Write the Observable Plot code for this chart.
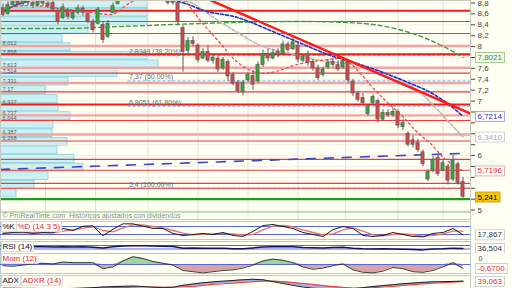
<!DOCTYPE html>
<html><head><meta charset="utf-8">
<script src="https://cdn.jsdelivr.net/npm/d3@7"></script>
<script src="https://cdn.jsdelivr.net/npm/@observablehq/plot@0.6"></script>
<style>
body{margin:0;background:#fffff4;font-family:"Liberation Sans",Arial,sans-serif}
#wrap{position:relative;width:512px;height:288px;overflow:hidden;background:#fffff4}
</style></head><body><div id="wrap"></div>
<script>
// ---------------- DATA ----------------
const candleOpen  = [8.70,8.60,8.76,8.83,8.78,8.85,8.80,8.76,8.84,8.79,8.80,8.66,8.52,8.66,8.52,8.62,8.70,8.60,8.46,8.42,8.40,8.18,8.62,8.78,8.95,9.10,9.25,9.15,9.08,9.02,9.06,8.98,8.94,8.88,8.80,8.80,8.34,7.92,8.10,8.02,7.78,7.90,7.74,7.78,7.60,7.72,7.48,7.34,7.16,7.38,7.46,7.36,7.66,7.86,7.78,7.90,7.86,8.04,7.95,8.02,7.74,7.85,7.72,7.60,7.48,7.62,7.72,7.66,7.62,7.72,7.36,7.14,7.06,6.76,6.96,7.00,6.66,6.78,6.74,6.80,6.52,6.40,6.28,6.24,6.06,5.56,5.72,5.96,5.72,5.80,5.56,5.84,5.52];
const candleHigh  = [8.78,8.82,8.90,8.92,8.93,8.95,8.88,8.92,8.90,8.86,8.84,8.70,8.78,8.70,8.66,8.76,8.74,8.64,8.50,8.72,8.46,8.48,8.80,9.00,9.15,9.34,9.30,9.22,9.14,9.12,9.10,9.04,8.98,8.92,8.90,8.84,8.38,8.17,8.18,8.05,7.96,8.02,7.85,7.82,7.80,7.76,7.52,7.38,7.38,7.52,7.56,7.72,7.94,7.95,7.94,7.96,8.10,8.08,8.16,8.06,7.86,7.92,7.76,7.66,7.62,7.76,7.78,7.74,7.80,7.76,7.40,7.18,7.14,6.94,7.12,7.04,6.84,6.84,6.86,6.84,6.66,6.44,6.36,6.30,6.10,5.74,5.98,6.00,5.92,5.84,6.00,5.88,5.60];
const candleLow   = [8.55,8.57,8.72,8.74,8.74,8.75,8.70,8.72,8.74,8.70,8.64,8.40,8.50,8.50,8.48,8.58,8.56,8.42,8.25,8.40,8.06,8.15,8.60,8.76,8.90,9.05,9.10,9.02,8.98,8.96,8.95,8.90,8.84,8.76,8.76,8.38,7.53,7.84,8.00,7.70,7.76,7.70,7.68,7.53,7.56,7.36,7.28,7.14,7.10,7.34,7.20,7.32,7.62,7.72,7.76,7.80,7.84,7.90,7.93,7.70,7.70,7.64,7.55,7.38,7.44,7.58,7.62,7.54,7.58,7.32,7.08,6.98,6.94,6.72,6.92,6.60,6.62,6.70,6.70,6.50,6.46,6.16,6.14,6.06,5.80,5.52,5.68,5.62,5.70,5.46,5.52,5.46,5.22];
const candleClose = [8.58,8.76,8.82,8.78,8.85,8.80,8.76,8.84,8.79,8.74,8.68,8.45,8.72,8.55,8.62,8.70,8.62,8.46,8.30,8.68,8.12,8.42,8.74,8.95,9.10,9.25,9.15,9.08,9.02,9.06,8.98,8.94,8.88,8.80,8.84,8.45,7.90,8.10,8.05,7.75,7.90,7.74,7.80,7.58,7.76,7.45,7.32,7.18,7.34,7.48,7.30,7.66,7.86,7.78,7.88,7.84,8.04,7.94,8.08,7.76,7.82,7.70,7.60,7.42,7.58,7.70,7.66,7.58,7.74,7.38,7.14,7.02,6.96,6.90,7.08,6.66,6.78,6.74,6.80,6.55,6.60,6.20,6.20,6.10,5.84,5.70,5.92,5.66,5.86,5.54,5.90,5.50,5.241];

// month separators (bar index)
const monthStarts = [8.5, 18.5, 29, 39, 49, 59, 68.5, 79, 88];
const priceTicks = [5,5.2,5.4,5.6,5.8,6,6.2,6.4,6.6,6.8,7,7.2,7.4,7.6,7.8,8,8.2,8.4,8.6,8.8];

// volume profile (bins of 0.158 from 8.86 downward), relative volume
const profileTop = 8.86, profileBin = 0.158;
const profileVolume = [147,147,147,88,62,70,147,158,117,68,45,57,58,70,53,52,67,57,74,83,48,34,16];
const profileLevels = [8.012,7.858,7.613,7.514,7.331,7.17,6.937,6.737,6.644,6.387,6.268];

// horizontal support / resistance lines
const strongLevels = [8.66, 7.858, 6.937];
const thinLevels = [8.46, 8.24, 7.514, 7.17, 6.644, 6.268, 5.93, 5.73, 5.49, 5.40];
const softLevels = [8.012, 7.613, 7.331, 6.737, 6.387];
const greenStrong = [5.2];
const greenThin = [4.965];

// Fibonacci retracement
const fibStart = 25;
const fibValues = [7.8349, 7.37, 6.9051, 5.4];
const fibPct = ["38.20%", "50.00%", "61.80%", "100.00%"];

// moving averages [bar index, price]
const maBlue = [[-0.5,8.626],[3.5,8.791],[7.5,8.883],[19.5,8.883],[31.5,8.883],[36.5,8.791],[40.1,8.663],[46.9,8.534],[53.5,8.296],[60.1,8.039],[66.1,7.818],[69.5,7.727],[74.9,7.562],[81.5,7.323],[85.5,7.158],[88.9,6.956],[92,6.7214]];
const maGray = [[34.5,8.883],[37.5,8.809],[42.1,8.534],[46.9,8.259],[51.5,8.020],[57.5,7.873],[63.5,7.745],[68.5,7.690],[73.5,7.617],[77.5,7.470],[82.9,7.195],[85.5,6.974],[88.9,6.644],[92,6.341]];
const maRed = [[-0.5,8.699],[5.5,8.754],[11.5,8.699],[17.5,8.626],[21.5,8.589],[25.5,8.809],[29.5,8.956],[33.5,8.956],[36.1,8.846],[40.1,8.406],[43.5,8.057],[46.5,7.745],[49.5,7.562],[51.9,7.507],[54.5,7.543],[58.9,7.672],[63.5,7.745],[67.5,7.782],[69.5,7.690],[71.5,7.507],[74.1,7.231],[76.9,6.974],[80.1,6.699],[82.9,6.424],[85.5,6.222],[88.1,5.965],[92,5.7196]];
const maGreen = [[-0.5,8.332],[11.5,8.332],[23.5,8.369],[34.1,8.406],[46.1,8.442],[59.5,8.461],[68.9,8.442],[77.5,8.351],[84.1,8.167],[88.5,7.984],[92,7.8021]];
const regression = [[-0.5,5.745],[92,6.04]];
const trendline = [[30,9.31],[93.5,6.77]];

const tagValues = [7.8021, 6.7214, 6.3410, 5.7196, 5.241];
const tagLabels = ["7,8021", "6,7214", "6,3410", "5,7196", "5,241"];
const copyright = "© ProRealTime.com  Históricos ajustados con dividendos";

// indicators, every 2nd bar
const indIdx = [0,2,4,6,8,10,12,14,16,18,20,22,24,26,28,30,32,34,36,38,40,42,44,46,48,50,52,54,56,58,60,62,64,66,68,70,72,74,76,78,80,82,84,86,88,90,92];
const stochK = [28,35,38,28,35,33,65,50,82,85,10,60,100,100,82,66,65,28,12,20,28,20,35,13,5,43,87,95,80,65,35,20,5,57,80,65,13,5,13,35,20,5,2,28,35,65,17.867];
const stochD = [30,32,35,33,32,32,45,55,68,78,50,40,70,92,92,80,70,50,30,18,22,24,28,25,15,20,55,82,88,78,55,35,18,25,55,70,45,18,10,20,25,18,8,12,25,45,45];
const rsi = [50,55,56,55,57,52,55,52,56,50,42,55,65,68,66,64,62,58,38,42,40,40,40,34,32,42,52,55,56,55,46,45,42,48,50,38,32,30,32,30,28,24,20,30,32,40,36.504];
const mom = [-0.2,-0.3,-0.1,0.1,0.2,0.1,0.4,0.3,0.3,0.3,-0.7,-0.4,0.6,1.3,1.0,0.5,0.2,-0.1,-1.0,-1.2,-1.4,-1.2,-1.0,-0.9,-0.6,-0.1,0.6,0.9,0.7,0.3,-0.4,-0.8,-0.6,-0.2,0.1,-0.9,-1.3,-1.4,-1.1,-0.5,-0.7,-1.2,-1.3,-1.0,-0.4,0.3,-0.67];
const adx = [8,8,7,6,6,7,8,9,10,12,15,17,18,19,17,14,12,14,22,28,33,37,40,43,46,48,46,38,30,22,15,10,8,7,7,8,12,17,21,25,29,32,35,37,38,39,40];
const adxr = [10,10,9,9,8,8,8,8,9,10,11,12,13,14,15,15,14,14,16,18,22,26,29,32,35,38,40,40,38,34,30,26,21,17,13,10,10,12,15,18,22,25,28,31,34,36,39.063];

// ---------------- BUILD ----------------
const FONT = '"Liberation Sans", Arial, sans-serif';
const xDomain = [-0.5, 93.5];
const mainY = [4.827, 8.846];
const wrap = document.getElementById("wrap");
function place(svg, top) {
  svg.style.position = "absolute"; svg.style.left = "0px"; svg.style.top = top + "px";
  wrap.appendChild(svg); return svg;
}
function boxify(svg, cls, fills, strokes, pad) {
  d3.select(svg).selectAll("g." + cls + " text").each(function (d, k) {
    const b = this.getBBox();
    const t = this;
    d3.select(this.parentNode).insert("rect", () => t)
      .attr("x", b.x - pad).attr("y", b.y - 0.5)
      .attr("width", b.width + 2 * pad).attr("height", b.height + 1)
      .attr("transform", this.getAttribute("transform"))
      .attr("fill", fills[k % fills.length]).attr("stroke", strokes[k % strokes.length]).attr("stroke-width", 0.8);
  });
}
const fmtNum = v => String(v).replace(".", ",");

const candles = candleOpen.map((o, i) => ({i, open: o, high: candleHigh[i], low: candleLow[i], close: candleClose[i]}));
const profile = profileVolume.map((v, k) => ({vol: v, hi: profileTop - k * profileBin, lo: profileTop - (k + 1) * profileBin}));

// volume profile layer (bottom)
place(Plot.plot({
  width: 512, height: 219, marginLeft: 0, marginRight: 42, marginTop: 0, marginBottom: 0,
  x: {domain: [0, 470], axis: null}, y: {domain: mainY, axis: null},
  style: {background: "#fffff4"},
  marks: [
    Plot.ruleX(monthStarts.map(m => (m + 0.5) * 5), {stroke: "#e2e2d8"}),
    Plot.rectX(profile, {x: "vol", y1: "lo", y2: "hi", fill: "#c9f0f4", stroke: "#86cdd6", strokeWidth: 0.8, insetTop: 0.4, insetBottom: 0.4})
  ]
}), 0);

// tick labels hidden where a value tag sits on top of them (as in the reference)
const fmtTick = d => {
  if (tagValues.some(t => Math.abs(t - d) < 0.17)) return "";
  const s = d3.format(".1f")(d); return s.endsWith(".0") ? s.slice(0, -2) : s.replace(".", ",");
};
const tagText = ["#2e8b2e", "#2233cc", "#a8a8a8", "#e03030", "#000000"];
const tagFill = ["#f6fdf0", "#ffffff", "#ffffff", "#ffffff", "#f7c600"];
const tagStroke = ["#8cc07a", "#8c95dd", "#c8c8c8", "#ec9a9a", "#c09a00"];

const main = place(Plot.plot({
  width: 512, height: 219, marginLeft: 0, marginRight: 42, marginTop: 0, marginBottom: 0,
  x: {domain: xDomain, axis: null},
  y: {domain: mainY, axis: "right", ticks: priceTicks, tickFormat: fmtTick, tickSize: 4, tickPadding: 3, label: null},
  style: {background: "transparent", fontFamily: FONT, fontSize: "8px", color: "#444", overflow: "visible"},
  marks: [
    Plot.ruleY(priceTicks, {stroke: "#ececE2", strokeWidth: 0.8}),
    Plot.ruleY(fibValues, {x1: fibStart, x2: xDomain[1], stroke: "#6ab2ea", strokeWidth: 1, strokeDasharray: "3,2"}),
    Plot.ruleY(softLevels, {stroke: "#f3a3a3", strokeWidth: 2.4}),
    Plot.ruleY(thinLevels, {stroke: "#ec3b3b", strokeWidth: 1.1}),
    Plot.ruleY(strongLevels, {stroke: "#f51a1a", strokeWidth: 2}),
    Plot.ruleY(greenStrong, {stroke: "#1f9a1f", strokeWidth: 2.4}),
    Plot.ruleY(greenThin, {stroke: "#7cc07c", strokeWidth: 1}),
    Plot.line(regression, {stroke: "#3a4ac8", strokeWidth: 1.6, strokeDasharray: "9,9", clip: true}),
    Plot.line(maGreen, {stroke: "#3f9f3f", strokeWidth: 1.4, strokeDasharray: "4,3", curve: "monotone-x", clip: true}),
    Plot.line(maGray, {stroke: "#b9b9b9", strokeWidth: 1.6, strokeDasharray: "3,2", curve: "monotone-x", clip: true}),
    Plot.line(maBlue, {stroke: "#2233cc", strokeWidth: 1.6, strokeDasharray: "3,2", curve: "monotone-x", clip: true}),
    Plot.line(maRed, {stroke: "#ec4a4a", strokeWidth: 1.3, strokeDasharray: "2,3", curve: "monotone-x", clip: true}),
    Plot.ruleX(candles, {x: "i", y1: "low", y2: "high", stroke: "#5a5a5a", strokeWidth: 1, clip: true}),
    Plot.rect(candles, {x1: d => d.i - 0.32, x2: d => d.i + 0.32, y1: "open", y2: "close",
      fill: d => d.close >= d.open ? "#36a636" : "#d04848", stroke: "#585858", strokeWidth: 0.6, clip: true}),
    Plot.line(trendline, {stroke: "#ff1a1a", strokeWidth: 2.4, clip: true}),
    Plot.text(fibValues, {x: () => fibStart, y: d => d, text: (d, i) => `${fmtNum(d)} (${fibPct[i]})`,
      textAnchor: "start", dx: 1, dy: -4, fontSize: 7, fill: "#707070"}),
    Plot.text(profileLevels, {y: d => d, text: d => fmtNum(d), frameAnchor: "left", textAnchor: "start",
      lineAnchor: "bottom", dx: 2, dy: -0.5, fontSize: 5.6, fill: "#5c5c5c"}),
    Plot.text([copyright], {frameAnchor: "bottom-left", textAnchor: "start", lineAnchor: "bottom", dx: 2, dy: -2, fontSize: 7, fill: "#8a8a8a"}),
    Plot.frame({stroke: "#c9c9bf"}),
    Plot.text(tagValues, {y: d => d, text: (d, i) => tagLabels[i], frameAnchor: "right", textAnchor: "start",
      dx: 7, fontSize: 8, fill: (d, i) => tagText[i], className: "tagtxt"})
  ]
}), 0);
boxify(main, "tagtxt", tagFill, tagStroke, 2);

// ---------- indicator panels ----------
const ind = indIdx.map((i, k) => ({i, k: stochK[k], d: stochD[k], rsi: rsi[k], mom: mom[k], adx: adx[k], adxr: adxr[k]}));
function panel(top, height, yDomain, marks) {
  return place(Plot.plot({
    width: 512, height, marginLeft: 0, marginRight: 42, marginTop: 0, marginBottom: 0,
    x: {domain: xDomain, axis: null}, y: {domain: yDomain, axis: null},
    style: {background: "#fffff4", fontFamily: FONT, fontSize: "8px", overflow: "visible"},
    marks: [Plot.frame({stroke: "#b6cad4"}), ...marks]
  }), top);
}
const labelMark = (txt, color, dx, cls) => Plot.text([txt], {frameAnchor: "top-left", textAnchor: "start", lineAnchor: "top", dx, dy: 2, fontSize: 8, fill: color, className: cls});
const valueTag = (v, txt, color) => Plot.text([v], {y: d => d, text: () => txt, frameAnchor: "right", textAnchor: "start", dx: 7, fontSize: 8, fill: color, className: "itag"});

const p1 = panel(221, 18, [-17.5, 117.5], [
  Plot.ruleY([20, 80], {stroke: "#5b66dd", strokeWidth: 1}),
  Plot.line(ind, {x: "i", y: "d", stroke: "#e87070", strokeWidth: 1.3}),
  Plot.line(ind, {x: "i", y: "k", stroke: "#1e1e1e", strokeWidth: 1}),
  labelMark("%K", "#111", 2, "plab"),
  labelMark("%D (14 3 5)", "#e03030", 17, "plab"),
  valueTag(17.867, "17,867", "#333")
]);
const p2 = panel(241, 12, [-21.4, 115.7], [
  Plot.ruleY([30, 70], {stroke: "#5b66dd", strokeWidth: 1}),
  Plot.line(ind, {x: "i", y: "rsi", stroke: "#10106e", strokeWidth: 1.5}),
  labelMark("RSI (14)", "#111", 2, "plab"),
  valueTag(36.504, "36,504", "#333")
]);
const p3 = panel(253, 20, [-1.5, 1.833], [
  Plot.areaY(ind, {x: "i", y1: 0, y2: d => Math.max(0, d.mom), fill: "#9ed49e"}),
  Plot.areaY(ind, {x: "i", y1: 0, y2: d => Math.min(0, d.mom), fill: "#d9a3a3"}),
  Plot.ruleY([0], {stroke: "#5b66dd", strokeWidth: 1}),
  Plot.line(ind, {x: "i", y: "mom", stroke: "#2a2a2a", strokeWidth: 0.9}),
  labelMark("Mom (12)", "#e03030", 2, "plab"),
  Plot.text([0], {y: d => d, text: () => "0", frameAnchor: "right", textAnchor: "start", dx: 8, dy: -6, fontSize: 7, fill: "#444"}),
  valueTag(-0.67, "-0,6700", "#e03030")
]);
const p4 = panel(275, 15, [0, 64.3], [
  Plot.areaY(ind, {x: "i", y1: "adx", y2: "adxr", fill: "#8d90dc", fillOpacity: 0.75}),
  Plot.line(ind, {x: "i", y: "adxr", stroke: "#e04848", strokeWidth: 1.2}),
  Plot.line(ind, {x: "i", y: "adx", stroke: "#222", strokeWidth: 1}),
  labelMark("ADX", "#111", 2, "plab"),
  labelMark("ADXR (14)", "#e03030", 22, "plab"),
  valueTag(39.063, "39,063", "#e03030")
]);
for (const s of [p1, p2, p3, p4]) {
  boxify(s, "plab", ["#fbfbf8"], ["#d6d6d0"], 1);
  boxify(s, "itag", ["#ffffff"], ["#c4c4c4"], 2);
}
</script></body></html>
